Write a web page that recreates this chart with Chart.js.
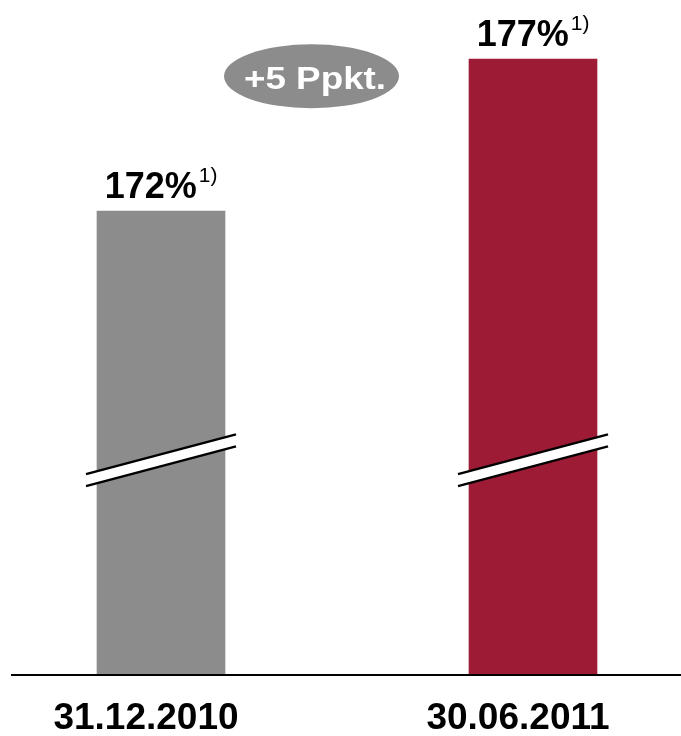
<!DOCTYPE html>
<html>
<head>
<meta charset="utf-8">
<script src="https://cdn.jsdelivr.net/npm/chart.js@4.4.0/dist/chart.umd.min.js"></script>
<style>
    html, body { margin: 0; padding: 0; background: #fff; }
    #wrap { width: 681px; height: 736px; position: relative; }
</style>
</head>
<body>
<div id="wrap"><canvas id="myChart"></canvas></div>
<script>
var categories = ["31.12.2010", "30.06.2011"];
var values = [172, 177];
var valueLabels = ["172%", "177%"];
var footnote = "1)";
var barColors = ["#8c8c8c", "#9e1b36"];
var changeLabel = "+5 Ppkt.";
var axisMin = 156.77;   // broken axis, bars start here
var breakAt = 163.8;    // where the break mark sits on each bar

var FONT = '"Liberation Sans", Arial, sans-serif';

var decor = {
    id: 'decor',
    afterDatasetsDraw: function (chart) {
        var ctx = chart.ctx;
        var yScale = chart.scales.y;
        var base = chart.chartArea.bottom;
        ctx.save();

        // base line
        ctx.strokeStyle = '#000';
        ctx.lineWidth = 2;
        ctx.beginPath();
        ctx.moveTo(11, base + 1);
        ctx.lineTo(681, base + 1);
        ctx.stroke();

        chart.getDatasetMeta(0).data.forEach(function (bar, i) {
            // break marks
            var cy = yScale.getPixelForValue(breakAt);
            var xl = bar.x - bar.width / 2 - 11;
            var xr = bar.x + bar.width / 2 + 11;
            var dy = (xr - xl) * 0.265 / 2;
            ctx.fillStyle = '#fff';
            ctx.beginPath();
            ctx.moveTo(xl, cy - 6 + dy);
            ctx.lineTo(xr, cy - 6 - dy);
            ctx.lineTo(xr, cy + 6 - dy);
            ctx.lineTo(xl, cy + 6 + dy);
            ctx.closePath();
            ctx.fill();
            ctx.strokeStyle = '#000';
            ctx.lineWidth = 2.5;
            [-6, 6].forEach(function (off) {
                ctx.beginPath();
                ctx.moveTo(xl, cy + off + dy);
                ctx.lineTo(xr, cy + off - dy);
                ctx.stroke();
            });

            // value label with footnote
            ctx.fillStyle = '#000';
            ctx.textBaseline = 'alphabetic';
            ctx.textAlign = 'left';
            ctx.font = 'bold 36px ' + FONT;
            var w1 = ctx.measureText(valueLabels[i]).width;
            ctx.font = '21px ' + FONT;
            var w2 = ctx.measureText(footnote).width;
            var start = bar.x - (w1 + 2 + w2) / 2;
            var yb = bar.y - 13;
            ctx.font = 'bold 36px ' + FONT;
            ctx.fillText(valueLabels[i], start, yb);
            ctx.font = '21px ' + FONT;
            ctx.fillText(footnote, start + w1 + 2, yb - 16);
        });

        // change bubble
        ctx.fillStyle = '#8c8c8c';
        ctx.beginPath();
        ctx.ellipse(311.5, 76.3, 87.5, 32, 0, 0, Math.PI * 2);
        ctx.fill();
        ctx.fillStyle = '#fff';
        ctx.font = 'bold 32px ' + FONT;
        ctx.textAlign = 'center';
        ctx.translate(315, 88.5);
        ctx.scale(1.15, 1);
        ctx.fillText(changeLabel, 0, 0);

        ctx.restore();
    }
};

new Chart("myChart", {
    type: "bar",
    data: {
        labels: categories,
        datasets: [{
            data: values,
            base: axisMin,
            backgroundColor: barColors,
            borderWidth: 0,
            barThickness: 128,
            clip: false
        }]
    },
    options: {
        responsive: true,
        maintainAspectRatio: false,
        animation: false,
        layout: { padding: { left: 161, right: 148, top: 0, bottom: -27 } },
        plugins: {
            legend: { display: false },
            tooltip: { enabled: false }
        },
        scales: {
            x: {
                offset: false,
                grid: { display: false, drawTicks: false },
                border: { display: false },
                ticks: {
                    color: '#000',
                    padding: 26,
                    labelOffset: -15,
                    maxRotation: 0,
                    autoSkip: false,
                    font: { family: FONT, size: 37, weight: 'bold', lineHeight: 1 }
                }
            },
            y: {
                display: false,
                min: axisMin,
                max: 178.94
            }
        }
    },
    plugins: [decor]
});
</script>
</body>
</html>
